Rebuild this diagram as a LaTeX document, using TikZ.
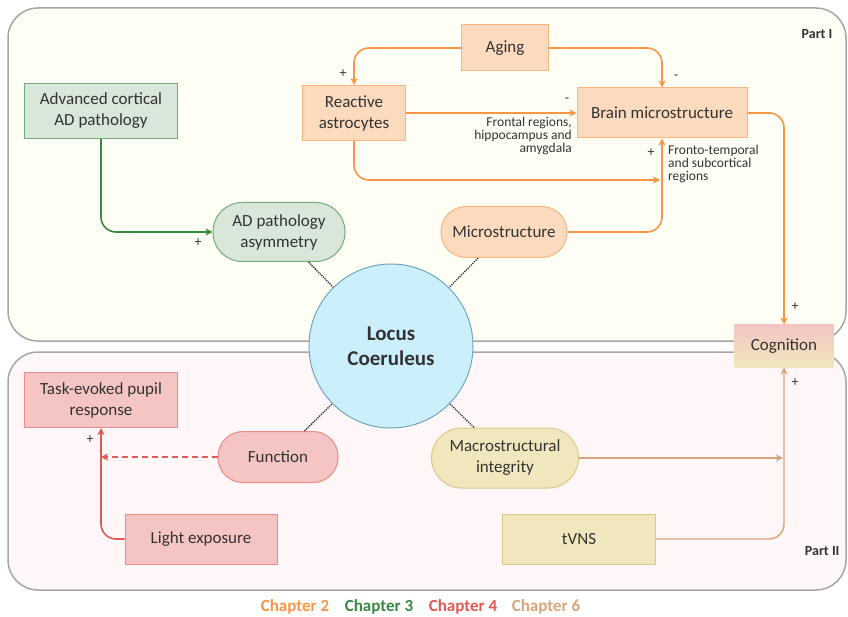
\documentclass[tikz,border=0pt]{standalone}
\usepackage{fontspec}
\setmainfont{Carlito}
\usetikzlibrary{arrows.meta}
\definecolor{chtwo}{HTML}{F79646}
\definecolor{chthree}{HTML}{3A8744}
\definecolor{chfour}{HTML}{E05A55}
\definecolor{chsix}{HTML}{D9A47C}
\definecolor{khaki}{HTML}{F1E7BD}
\definecolor{khakiline}{HTML}{DCC98A}
\definecolor{inktext}{HTML}{333333}
\begin{document}
\begin{tikzpicture}[x=1pt,y=-1pt,
  font=\fontsize{17}{21}\selectfont, text=inktext,
  box/.style={draw,line width=1pt,inner sep=0pt,align=center},
  orbox/.style={box,draw=chtwo!70,fill=chtwo!35},
  grbox/.style={box,draw=chthree!70,fill=chthree!20},
  rdbox/.style={box,draw=chfour!70,fill=chfour!35},
  tnbox/.style={box,draw=khakiline,fill=khaki},
  orline/.style={chtwo,line width=1.6pt,rounded corners=15pt,-{Stealth[length=7pt,width=7pt,inset=2pt]}},
  grline/.style={orline,chthree},
  rdline/.style={orline,chfour},
  tnline/.style={orline,chsix,line width=1.4pt},
  lclink/.style={black!80,densely dotted,line width=1.3pt},
  sgn/.style={inner sep=0pt,font=\fontsize{14}{14}\selectfont},
  small/.style={inner sep=0pt,font=\fontsize{13.5}{13}\selectfont}]
\useasboundingbox (0,0) rectangle (848,617);
% the two panels
\draw[black!35,line width=1.5pt,fill=yellow!4!white,rounded corners=30pt] (8,8) rectangle (846,341);
\draw[black!35,line width=1.5pt,fill=red!3!white,rounded corners=30pt] (8,352) rectangle (846,590);
\node[anchor=east,font=\bfseries\fontsize{14}{16}\selectfont] (parti) at (836,34) {Part I};
\node[anchor=east,font=\bfseries\fontsize{14}{16}\selectfont] (partii) at (843,551) {Part II};
% nodes
\node[orbox,minimum width=87pt,minimum height=46pt] (aging) at (505,48) {Aging};
\node[orbox,minimum width=103pt,minimum height=55pt] (astro) at (354,113) {Reactive\\astrocytes};
\node[orbox,minimum width=170pt,minimum height=50pt] (brain) at (662,113) {Brain microstructure};
\node[grbox,minimum width=153pt,minimum height=55pt] (adv) at (101,111) {Advanced cortical\\AD pathology};
\node[grbox,minimum width=132pt,minimum height=59pt,rounded corners=29pt] (asym) at (279,232) {AD pathology\\asymmetry};
\node[orbox,minimum width=126pt,minimum height=51pt,rounded corners=25pt] (micro) at (504,232) {Microstructure};
\node[box,draw=none,minimum width=99pt,minimum height=42pt,top color=chfour!35,bottom color=khaki] (cog) at (784,346) {Cognition};
\node[rdbox,minimum width=153pt,minimum height=55pt] (task) at (101,400) {Task-evoked pupil\\response};
\node[rdbox,minimum width=120pt,minimum height=51pt,rounded corners=25pt] (func) at (278,457) {Function};
\node[rdbox,minimum width=152pt,minimum height=50pt] (light) at (201,539) {Light exposure};
\node[tnbox,minimum width=147pt,minimum height=60pt,rounded corners=30pt] (macro) at (505,458) {Macrostructural\\integrity};
\node[tnbox,minimum width=153pt,minimum height=50pt] (tvns) at (579,539) {tVNS};
\node[circle,draw=cyan!60!black!70,line width=1pt,fill=cyan!20,minimum size=164pt,inner sep=0pt,align=center,
  font=\bfseries\fontsize{21}{25}\selectfont] (lc) at (391,346) {Locus\\Coeruleus};
% dotted links to the circle
\foreach \n in {asym,micro,func,macro}
  \draw[lclink] (\n) -- (lc);
% chapter 2
\coordinate (join) at (660,180);
\draw[orline] (aging.west) -| (astro.north);
\draw[orline] (aging.east) -| (brain.north);
\draw[orline] (astro.east) -- (brain.west);
\draw[orline] (astro.south) |- (join);
\draw[orline] (micro.east) -| (brain.south);
\draw[orline] (brain.east) -| (cog.north);
\node[sgn] (p1) at (343,74) {+};
\node[sgn] (m1) at (676,77) {-};
\node[sgn] (m2) at (567,100) {-};
\node[sgn] (p2) at (651,153) {+};
\node[sgn] (p3) at (795,307) {+};
\node[small,anchor=north east,align=right] (frontal) at (572,117) {Frontal regions,\\hippocampus and\\amygdala};
\node[small,anchor=north west,align=left] (fronto) at (668,145) {Fronto-temporal\\and subcortical\\regions};
% chapter 3
\draw[grline] (adv.south) |- (asym.west);
\node[sgn] (p4) at (198,243) {+};
% chapter 4
\draw[rdline] (light.west) -| (task.south);
\draw[rdline,dash pattern=on 6pt off 4pt,rounded corners=0pt] (func.west) -- (task.south |- func.west);
\node[sgn] (p5) at (90,440) {+};
% chapter 6
\coordinate (macroend) at (783,458);
\draw[tnline] (macro.east) -- (macroend);
\draw[tnline] (tvns.east) -| (cog.south);
\node[sgn] (p6) at (795,383) {+};
% legend
\foreach \c/\t/\x in {chtwo/2/295,chthree/3/379,chfour/4/463,chsix/6/546}
  \node[text=\c,font=\bfseries\fontsize{17}{20}\selectfont] (leg\t) at (\x,607) {Chapter \t};
\end{tikzpicture}
\end{document}
